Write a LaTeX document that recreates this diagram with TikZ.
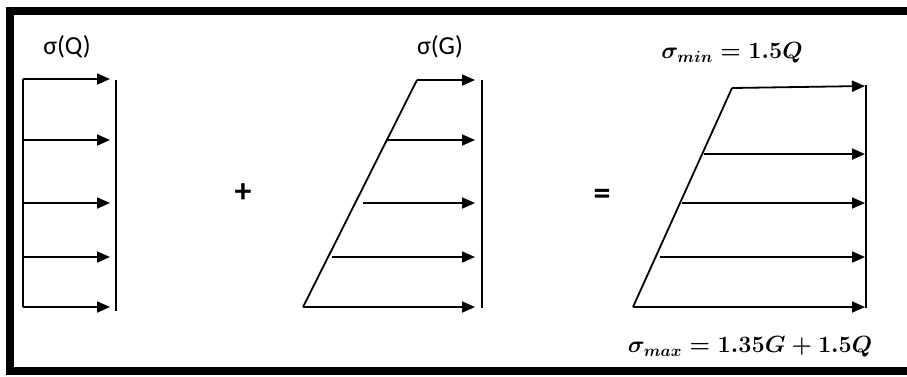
\documentclass[tikz,border=0pt]{standalone}
\usepackage{fontspec}
\setmainfont{Carlito}
\usetikzlibrary{arrows.meta}
\begin{document}
\begin{tikzpicture}[x=1pt,y=-1pt,
  load/.style={line width=1.8pt,-{Triangle[length=13pt,width=11pt]}},
  edge/.style={line width=1.8pt},
  lbl/.style={inner sep=0pt,font=\fontsize{26}{30}\selectfont},
  mth/.style={inner sep=0pt,scale=1.13,font=\fontsize{20}{24}\selectfont\boldmath},
  op/.style={inner sep=0pt,font=\fontsize{34}{38}\selectfont\bfseries}]
\useasboundingbox (0,0) rectangle (907,376);
\fill[white] (0,0) rectangle (907,376);
\draw[line width=8pt] (10,11) rectangle (925,371);

% left diagram: sigma(Q)
\coordinate (qt) at (23,79);
\coordinate (qb) at (23,307);
\draw[edge] (qt) -- (qb);
\foreach \y [count=\i] in {79,140,203,257,307}{
  \coordinate (qs\i) at (23,\y);
  \coordinate (qe\i) at (110,\y);
  \draw[load] (qs\i) -- (qe\i);
}
\coordinate (qw1) at (116,80);
\coordinate (qw2) at (116,311);
\draw[edge] (qw1) -- (qw2);
\node[lbl] (lq) at (67,47) {σ(Q)};

\node[op] (plus) at (243,193) {+};

% middle diagram: sigma(G)
\coordinate (gt) at (417,80);
\coordinate (gb) at (303,307);
\draw[edge] (gt) -- (gb);
\coordinate (ge1) at (475,80);
\draw[load] (gt) -- (ge1);
\coordinate (gs2) at (387,140); \coordinate (ge2) at (475,140);
\coordinate (gs3) at (363,203); \coordinate (ge3) at (475,203);
\coordinate (gs4) at (332,257); \coordinate (ge4) at (475,257);
\coordinate (ge5) at (475,307);
\draw[load] (gs2) -- (ge2);
\draw[load] (gs3) -- (ge3);
\draw[load] (gs4) -- (ge4);
\draw[load] (gb) -- (ge5);
\coordinate (gw1) at (482,80);
\coordinate (gw2) at (482,308);
\draw[edge] (gw1) -- (gw2);
\node[lbl] (lg) at (440,47) {σ(G)};

\node[op] (eq) at (602,197) {=};

% right diagram: combination
\coordinate (rt) at (732,88);
\coordinate (rb) at (633,307);
\draw[edge] (rt) -- (rb);
\coordinate (re1) at (865,86);
\draw[load] (rt) -- (re1);
\coordinate (rs2) at (704,154); \coordinate (re2) at (865,154);
\coordinate (rs3) at (682,203); \coordinate (re3) at (865,203);
\coordinate (rs4) at (660,257); \coordinate (re4) at (865,257);
\coordinate (re5) at (865,307);
\draw[load] (rs2) -- (re2);
\draw[load] (rs3) -- (re3);
\draw[load] (rs4) -- (re4);
\draw[load] (rb) -- (re5);
\coordinate (rw1) at (866,85);
\coordinate (rw2) at (866,308);
\draw[edge] (rw1) -- (rw2);
\node[mth] (smin) at (732,53) {$\sigma_{min} = 1.5Q$};
\node[mth] (smax) at (750,347) {$\sigma_{max} = 1.35G + 1.5Q$};
\end{tikzpicture}
\end{document}
